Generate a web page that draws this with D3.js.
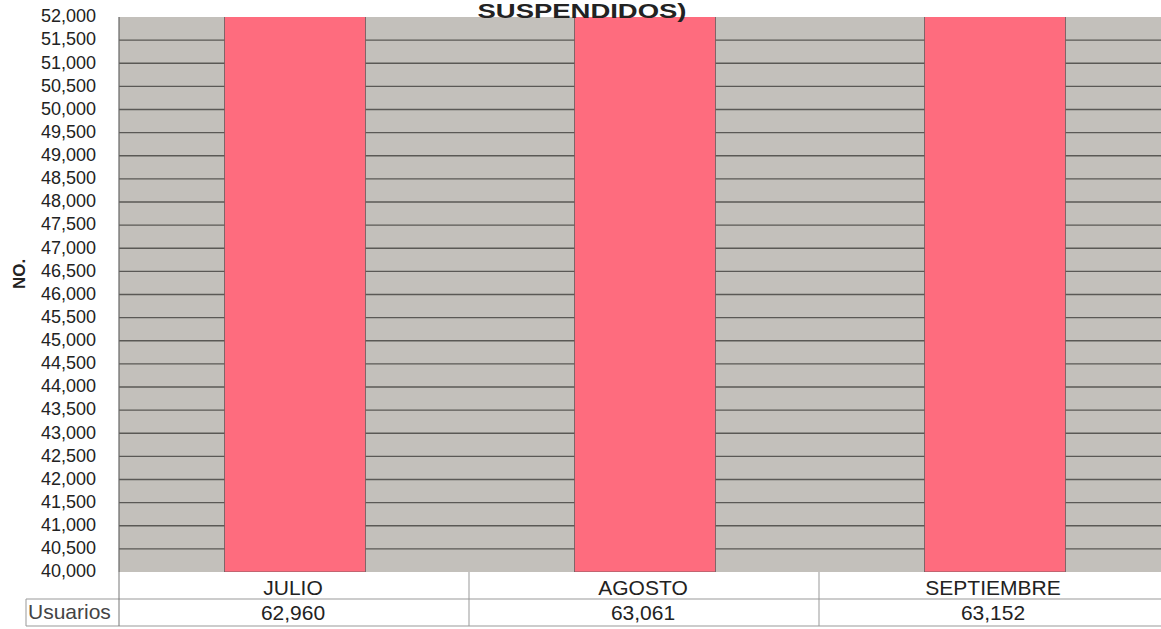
<!DOCTYPE html>
<html>
<head>
    <meta charset="utf-8">
    <title>Usuarios suspendidos</title>
    <script src="https://d3js.org/d3.v7.min.js"></script>
    <style>
        body { margin: 0; background: #fff; }
        text { font-family: Arial, "Liberation Sans", sans-serif; fill: #222; }
    </style>
</head>
<body>
    <svg width="1161" height="629"></svg>
    <script>
        // data
        var months = ["JULIO", "AGOSTO", "SEPTIEMBRE"];
        var usuarios = [62960, 63061, 63152];
        var yTicks = d3.range(40000, 52001, 500);

        var svg = d3.select("svg");
        var plotLeft = 119, plotTop = 17, plotH = 555, band = 350;

        var x = d3.scaleBand()
            .domain(months)
            .range([plotLeft, plotLeft + band * months.length])
            .paddingInner(0).paddingOuter(0);

        var y = d3.scaleLinear()
            .domain([40000, 52000])
            .range([plotTop + plotH, plotTop]);

        // clip for bars that go beyond the axis max
        svg.append("clipPath").attr("id", "plot")
            .append("rect")
            .attr("x", plotLeft).attr("y", plotTop)
            .attr("width", band * 3).attr("height", plotH);

        // background
        svg.append("rect")
            .attr("x", plotLeft).attr("y", plotTop)
            .attr("width", band * 3).attr("height", plotH)
            .attr("fill", "#c3c0bb");

        // gridlines
        svg.selectAll(".grid")
            .data(yTicks.slice(1, -1))
            .enter().append("line")
            .attr("x1", plotLeft).attr("x2", plotLeft + band * 3)
            .attr("y1", function (d) { return y(d); })
            .attr("y2", function (d) { return y(d); })
            .attr("stroke", "#5a5855")
            .attr("stroke-width", 1.4);

        // bars
        var barW = 141;
        svg.append("g").attr("clip-path", "url(#plot)")
            .selectAll(".bar")
            .data(usuarios)
            .enter().append("rect")
            .attr("class", "bar")
            .attr("x", function (d, i) { return x(months[i]) + x.bandwidth() / 2 - barW / 2 + 1; })
            .attr("y", function (d) { return y(d); })
            .attr("width", barW)
            .attr("height", function (d) { return y(40000) - y(d); })
            .attr("fill", "#fe6c7e")
            .attr("stroke", "#6a5a5c")
            .attr("stroke-width", 0.8);

        // left axis line
        svg.append("line")
            .attr("x1", plotLeft).attr("x2", plotLeft)
            .attr("y1", plotTop).attr("y2", plotTop + plotH)
            .attr("stroke", "#666").attr("stroke-width", 1.2);

        // y tick labels
        svg.selectAll(".ylab")
            .data(yTicks)
            .enter().append("text")
            .attr("x", 96)
            .attr("y", function (d) { return y(d) - 1; })
            .attr("dy", "0.35em")
            .attr("text-anchor", "end")
            .style("font-size", "18px")
            .text(function (d) { return d3.format(",")(d); });

        // y axis label
        svg.append("text")
            .attr("transform", "translate(25,274) rotate(-90)")
            .attr("text-anchor", "middle")
            .style("font-size", "17px")
            .style("font-weight", "bold")
            .text("NO.");

        // title (cut off at top)
        svg.append("text")
            .attr("x", 582)
            .attr("y", 18)
            .attr("text-anchor", "middle")
            .attr("textLength", 209)
            .attr("lengthAdjust", "spacingAndGlyphs")
            .style("font-size", "21px")
            .style("font-weight", "bold")
            .text("SUSPENDIDOS)");

        // data table
        var tb = plotTop + plotH, r1 = tb + 27, r2 = r1 + 27;
        var tableLine = "#999";
        var t = svg.append("g");
        t.append("line").attr("x1", plotLeft).attr("x2", 1161).attr("y1", r1).attr("y2", r1).attr("stroke", tableLine);
        t.append("line").attr("x1", 26).attr("x2", 1161).attr("y1", r2).attr("y2", r2).attr("stroke", tableLine);
        t.append("line").attr("x1", 26).attr("x2", plotLeft).attr("y1", r1).attr("y2", r1).attr("stroke", tableLine);
        t.append("line").attr("x1", 26).attr("x2", 26).attr("y1", r1).attr("y2", r2).attr("stroke", tableLine);
        t.append("line").attr("x1", plotLeft).attr("x2", plotLeft).attr("y1", tb).attr("y2", r2).attr("stroke", "#777");
        t.selectAll(".div")
            .data(months.slice(1))
            .enter().append("line")
            .attr("x1", function (d) { return x(d); })
            .attr("x2", function (d) { return x(d); })
            .attr("y1", tb).attr("y2", r2)
            .attr("stroke", tableLine);

        t.selectAll(".cat")
            .data(months)
            .enter().append("text")
            .attr("x", function (d) { return x(d) + x.bandwidth() / 2 - 1; })
            .attr("y", tb + 23)
            .attr("text-anchor", "middle")
            .style("font-size", "21px")
            .text(function (d) { return d; });

        t.selectAll(".val")
            .data(usuarios)
            .enter().append("text")
            .attr("x", function (d, i) { return x(months[i]) + x.bandwidth() / 2 - 1; })
            .attr("y", r1 + 21)
            .attr("text-anchor", "middle")
            .style("font-size", "21px")
            .text(function (d) { return d3.format(",")(d); });

        t.append("text")
            .attr("x", 28).attr("y", r1 + 20)
            .style("font-size", "21px")
            .style("fill", "#444")
            .text("Usuarios");
    </script>
</body>
</html>
